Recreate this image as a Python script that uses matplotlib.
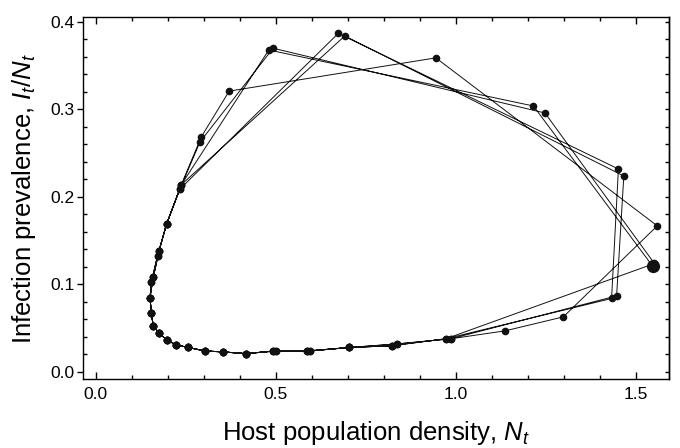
"""Host-pathogen phase plot: infection prevalence vs host density over time."""
import matplotlib
matplotlib.use("Agg")
import matplotlib.pyplot as plt
from matplotlib.ticker import MultipleLocator

# --- data (N_t, I_t/N_t), in time order by segment ---
# fast (top / right) parts of each cycle
fast1_N = [1.547, 1.216, 0.481]
fast1_I = [0.121, 0.304, 0.368]
fast2_N = [1.433, 1.452, 0.674]
fast2_I = [0.084, 0.232, 0.387]
fast3_N = [1.447, 1.467, 0.692]
fast3_I = [0.087, 0.224, 0.384]
fast4_N = [1.552, 1.248, 0.493, 0.290]
fast4_I = [0.124, 0.296, 0.370, 0.263]
fast5_N = [1.137, 1.299, 1.560, 0.945, 0.371, 0.294]
fast5_I = [0.047, 0.063, 0.167, 0.359, 0.321, 0.269]

# slow (left / bottom) branch, two slightly shifted passes
slow_a_N = [0.238, 0.197, 0.176, 0.160, 0.151, 0.155, 0.160, 0.177, 0.197, 0.223,
            0.258, 0.304, 0.353, 0.417, 0.494, 0.588, 0.704, 0.822, 0.973]
slow_a_I = [0.214, 0.169, 0.138, 0.108, 0.085, 0.067, 0.053, 0.044, 0.037, 0.031,
            0.028, 0.024, 0.023, 0.021, 0.024, 0.024, 0.028, 0.030, 0.038]
slow_b_N = [0.234, 0.197, 0.172, 0.155, 0.151, 0.155, 0.160, 0.177, 0.197, 0.223,
            0.258, 0.304, 0.353, 0.417, 0.502, 0.596, 0.704, 0.836, 0.987]
slow_b_I = [0.209, 0.169, 0.133, 0.103, 0.085, 0.067, 0.053, 0.044, 0.037, 0.031,
            0.028, 0.024, 0.023, 0.021, 0.024, 0.024, 0.028, 0.032, 0.038]

N = (fast1_N + slow_a_N + fast2_N + slow_b_N + fast3_N + slow_a_N
     + fast4_N + slow_b_N + fast5_N + slow_a_N[:-1])
I = (fast1_I + slow_a_I + fast2_I + slow_b_I + fast3_I + slow_a_I
     + fast4_I + slow_b_I + fast5_I + slow_a_I[:-1])

plt.rcParams.update({
    "font.family": "Liberation Sans",
    "mathtext.fontset": "custom",
    "mathtext.rm": "Liberation Sans",
    "mathtext.it": "Liberation Sans:italic",
    "axes.linewidth": 1.0,
})

fig = plt.figure(figsize=(6.8, 4.48), dpi=100)
ax = fig.add_axes([83 / 680, 69 / 448, 586 / 680, 362 / 448])

ax.plot(N, I, "-", color="#111111", lw=0.7, zorder=2)
ax.plot(N, I, "o", color="#111111", ms=5.5, mew=0, zorder=3)
# starting point drawn larger
ax.plot(N[0], I[0], "o", color="#111111", ms=9.5, mew=0, zorder=4)

ax.set_xlim(-0.035, 1.5925)
ax.set_ylim(-0.008, 0.4057)

ax.xaxis.set_major_locator(MultipleLocator(0.5))
ax.xaxis.set_minor_locator(MultipleLocator(0.1))
ax.yaxis.set_major_locator(MultipleLocator(0.1))
ax.yaxis.set_minor_locator(MultipleLocator(0.02))

ax.tick_params(axis="x", which="both", direction="in", top=True, bottom=True,
               width=1, labelsize=12.5, pad=6)
ax.tick_params(axis="x", which="major", length=5)
ax.tick_params(axis="x", which="minor", length=3)
ax.tick_params(axis="y", which="major", direction="out", length=4.5, width=1,
               labelsize=12.5, pad=1.5, right=False)
ax.tick_params(axis="y", which="minor", direction="in", length=3, width=1,
               right=False)

sec = ax.secondary_yaxis("right")
sec.yaxis.set_major_locator(MultipleLocator(0.1))
sec.yaxis.set_minor_locator(MultipleLocator(0.02))
sec.tick_params(which="both", direction="in", length=3, width=1, labelright=False)

ax.set_xlabel("Host population density, $N_t$", fontsize=18.5, labelpad=12)
ax.set_ylabel("Infection prevalence, $I_t/N_t$", fontsize=18.5, labelpad=9)

fig.savefig("out.png", dpi=100)
